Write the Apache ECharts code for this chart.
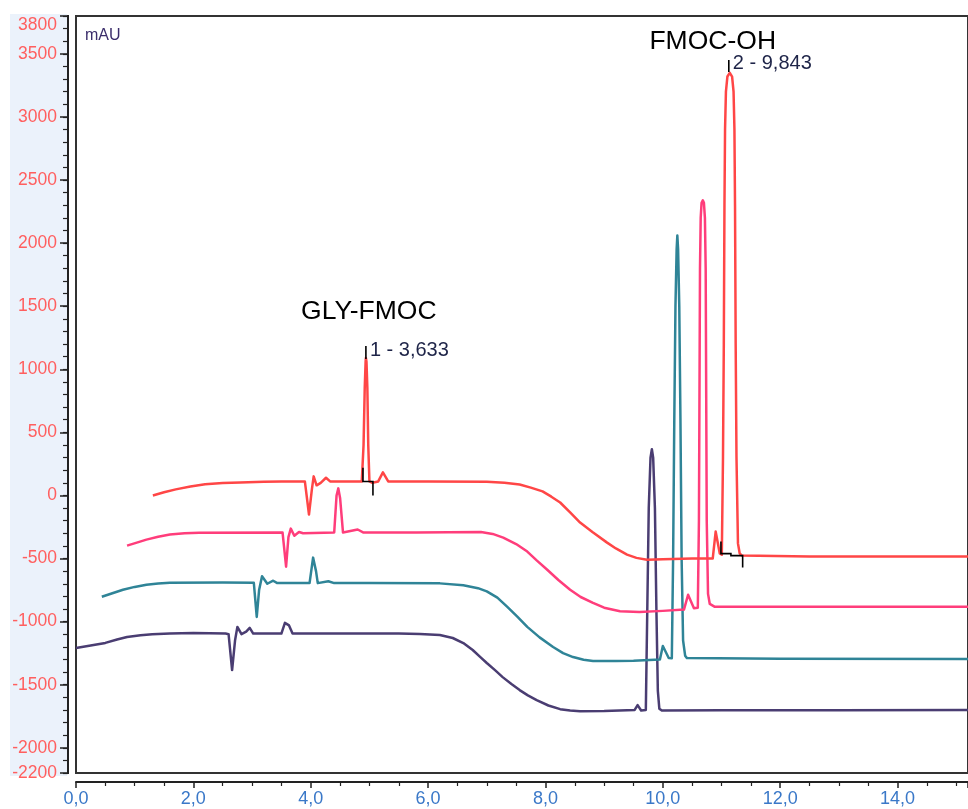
<!DOCTYPE html>
<html>
<head>
<meta charset="utf-8">
<script src="https://cdn.jsdelivr.net/npm/echarts@6/dist/echarts.min.js"></script>
<style>
html,body{margin:0;padding:0;background:#fff;}
#chart{width:968px;height:809px;}
</style>
</head>
<body>
<div id="chart"></div>
<script>
// ---- data (retention time [min], signal [mAU]) ----
const trace1 = [
  [1.31,0],[1.5,25],[1.7,48],[1.95,70],[2.2,88],[2.5,98],[2.8,103],[3.2,108],[3.5,110],[3.90,111],[3.97,-151],
  [4.02,50],[4.05,151],[4.10,80],[4.17,100],[4.26,140],[4.33,111],[4.87,111],[4.90,400],[4.92,850],[4.935,1060],
  [4.94,1090],[4.95,1060],[4.965,850],[4.98,400],[5.0,111],[5.05,100],[5.15,111],[5.23,183],[5.32,111],[6.0,111],
  [7.0,108],[7.3,100],[7.56,87],[7.75,62],[7.95,32],[8.1,-10],[8.25,-56],[8.42,-135],[8.59,-215],[8.8,-290],
  [9.05,-374],[9.2,-420],[9.39,-469],[9.55,-495],[9.73,-509],[10.0,-505],[10.5,-500],[10.85,-500],[10.90,-286],
  [10.97,-460],[11.005,-470],[11.025,300],[11.039,1200],[11.05,2300],[11.06,2900],[11.075,3200],[11.10,3320],
  [11.141,3349],[11.18,3320],[11.205,3200],[11.22,2900],[11.23,2300],[11.241,1200],[11.255,300],[11.28,-380],
  [11.31,-460],[11.346,-477],[12.5,-485],[15.2,-485]
];
const trace2 = [
  [0.87,-398],[1.05,-372],[1.2,-350],[1.4,-328],[1.6,-310],[1.85,-300],[2.1,-295],[3.52,-294],[3.58,-565],
  [3.62,-330],[3.66,-263],[3.72,-320],[3.80,-290],[3.87,-300],[4.40,-294],[4.44,0],[4.47,56],[4.50,-20],
  [4.55,-294],[4.80,-270],[4.90,-294],[5.8,-294],[6.9,-290],[7.1,-305],[7.28,-334],[7.5,-385],[7.69,-445],
  [7.85,-515],[8.03,-589],[8.22,-670],[8.42,-748],[8.6,-805],[8.81,-851],[9.0,-890],[9.27,-918],[9.6,-923],
  [10.0,-915],[10.36,-905],[10.43,-787],[10.53,-895],[10.596,-890],[10.615,-200],[10.625,900],[10.633,1800],
  [10.645,2200],[10.66,2320],[10.681,2339],[10.70,2320],[10.717,2200],[10.73,1800],[10.738,900],[10.748,-200],
  [10.77,-780],[10.80,-860],[10.886,-883],[15.2,-883]
];
const trace3 = [
  [0.44,-803],[0.62,-775],[0.8,-748],[1.0,-725],[1.2,-708],[1.4,-698],[1.6,-692],[2.5,-690],[3.03,-692],
  [3.08,-963],[3.12,-750],[3.17,-640],[3.20,-636],[3.26,-700],[3.36,-676],[3.43,-695],[3.98,-695],[4.04,-493],
  [4.09,-600],[4.12,-695],[4.30,-680],[4.40,-695],[5.0,-695],[6.2,-697],[6.6,-712],[6.85,-735],[7.0,-760],
  [7.18,-810],[7.35,-883],[7.52,-960],[7.69,-1042],[7.9,-1125],[8.13,-1201],[8.3,-1250],[8.47,-1281],
  [8.65,-1303],[8.81,-1313],[9.2,-1312],[9.5,-1310],[9.95,-1300],[10.00,-1193],[10.10,-1289],[10.153,-1290],
  [10.175,-500],[10.195,600],[10.215,1500],[10.235,1950],[10.247,2060],[10.26,1950],[10.28,1500],[10.30,600],
  [10.32,-500],[10.345,-1150],[10.38,-1270],[10.409,-1289],[12.0,-1295],[15.2,-1297]
];
const trace4 = [
  [0.0,-1209],[0.25,-1190],[0.5,-1169],[0.7,-1142],[0.87,-1122],[1.1,-1108],[1.3,-1100],[1.6,-1094],[2.0,-1090],
  [2.55,-1095],[2.60,-1100],[2.66,-1384],[2.71,-1150],[2.75,-1042],[2.82,-1100],[2.90,-1080],[2.96,-1050],
  [3.02,-1095],[3.50,-1095],[3.56,-1010],[3.63,-1030],[3.69,-1095],[4.5,-1095],[5.5,-1095],[5.86,-1098],
  [6.2,-1106],[6.42,-1130],[6.6,-1170],[6.76,-1225],[6.9,-1285],[7.0,-1328],[7.14,-1385],[7.27,-1440],
  [7.42,-1495],[7.56,-1543],[7.7,-1585],[7.85,-1623],[8.05,-1665],[8.25,-1694],[8.42,-1705],[8.59,-1710],
  [9.0,-1708],[9.52,-1700],[9.57,-1662],[9.63,-1705],[9.71,-1700],[9.735,-900],[9.76,-100],[9.79,300],
  [9.813,366],[9.835,300],[9.865,-100],[9.89,-900],[9.915,-1550],[9.94,-1690],[9.983,-1705],[11.0,-1703],
  [13.0,-1703],[15.2,-1700]
];
// integration baseline / apex markers
const peakMarkers = [
  [[4.94,1082],[4.94,1185]],
  [[4.89,220],[4.89,111],[5.06,111],[5.06,0]],
  [[11.124,3357],[11.124,3452]],
  [[10.99,-365],[10.99,-461],[11.16,-461],[11.16,-477],[11.36,-477],[11.36,-572]]
];
const peakLabels = [
  {coord:[4.94,1150], text:'1 - 3,633'},
  {coord:[11.124,3420], text:'2 - 9,843'}
];
const compoundNames = [
  {coord:[4.99,1460], text:'GLY-FMOC'},
  {coord:[10.85,3600], text:'FMOC-OH'}
];
const yLabelValues = [-2200,-2000,-1500,-1000,-500,0,500,1000,1500,2000,2500,3000,3500,3800];
const yTickValues = [-2200,-2000,-1500,-1000,-500,0,500,1000,1500,2000,2500,3000,3500,3800];

const chart = echarts.init(document.getElementById('chart'));
const font = '"Liberation Sans", Arial, sans-serif';
function trace(data, color, z){
  return {type:'line', data:data, showSymbol:false, symbol:'none', smooth:false,
    lineStyle:{color:color, width:2.5, join:'round'}, z:z, animation:false};
}
const option = {
  animation:false,
  backgroundColor:'#fff',
  graphic:[
    {type:'rect', shape:{x:10,y:14,width:57,height:762}, style:{fill:'#ebf2fb'}, z:-10},
    {type:'line', shape:{x1:68,y1:15,x2:68,y2:774}, style:{stroke:'#222', lineWidth:2}, z:50},
    {type:'line', shape:{x1:76,y1:782,x2:968,y2:782}, style:{stroke:'#222', lineWidth:2}, z:50},
    {type:'text', left:85, top:28, style:{text:'mAU', fill:'#3b2d6b', font:'16px "Liberation Sans", Arial'}}
  ],
  grid:{left:76, right:0, top:16, bottom:36, show:true, borderColor:'#333', borderWidth:2, backgroundColor:'#fff'},
  xAxis:{type:'value', min:0, max:15.2, interval:2, offset:9,
    axisLine:{show:true, onZero:false, lineStyle:{color:'#222', width:2}},
    axisTick:{length:6, lineStyle:{color:'#222', width:1.5}},
    minorTick:{show:true, splitNumber:4, length:4, lineStyle:{color:'#222', width:1.2}},
    splitLine:{show:false},
    axisLabel:{color:'#3a78c8', fontSize:18, fontFamily:font, margin:8, showMaxLabel:false,
      formatter:v=>v.toFixed(1).replace('.',',')}
  },
  yAxis:[
    {type:'value', min:-2200, max:3800, offset:8, position:'left',
      axisLine:{show:true, onZero:false, lineStyle:{color:'#222', width:2}},
      axisTick:{show:true, length:8, customValues:yTickValues, lineStyle:{color:'#222', width:1.5}},
      splitLine:{show:false},
      axisLabel:{color:'#ff5f5f', fontSize:17.5, fontFamily:font, margin:11, customValues:yLabelValues,
        verticalAlignMaxLabel:'top', formatter:v=>String(v)}
    },
    {type:'value', min:-2200, max:3800, interval:100, offset:8, position:'left',
      axisLine:{show:true, onZero:false, lineStyle:{color:'#222', width:2}},
      axisTick:{show:true, length:5, lineStyle:{color:'#222', width:1.2}},
      splitLine:{show:false}, axisLabel:{show:false}
    }
  ],
  series:[
    trace(trace4,'#4a3d72',4),
    trace(trace3,'#2f8497',5),
    trace(trace2,'#ff3d7b',6),
    Object.assign(trace(trace1,'#ff4646',7),{
      markPoint:{symbol:'circle', symbolSize:0, animation:false,
        data: peakLabels.map(p=>({coord:p.coord, label:{show:true, position:'right', distance:4,
          formatter:p.text, color:'#1e2448', fontSize:20, fontFamily:font}})).concat(
          compoundNames.map(p=>({coord:p.coord, label:{show:true, position:'inside',
          formatter:p.text, color:'#000', fontSize:26.5, fontFamily:font}})))
      }
    }),
    {type:'lines', coordinateSystem:'cartesian2d', polyline:true, z:8,
      lineStyle:{color:'#000', width:1.6, opacity:1},
      data: peakMarkers.map(c=>({coords:c})), animation:false}
  ]
};
chart.setOption(option);
</script>
</body>
</html>
